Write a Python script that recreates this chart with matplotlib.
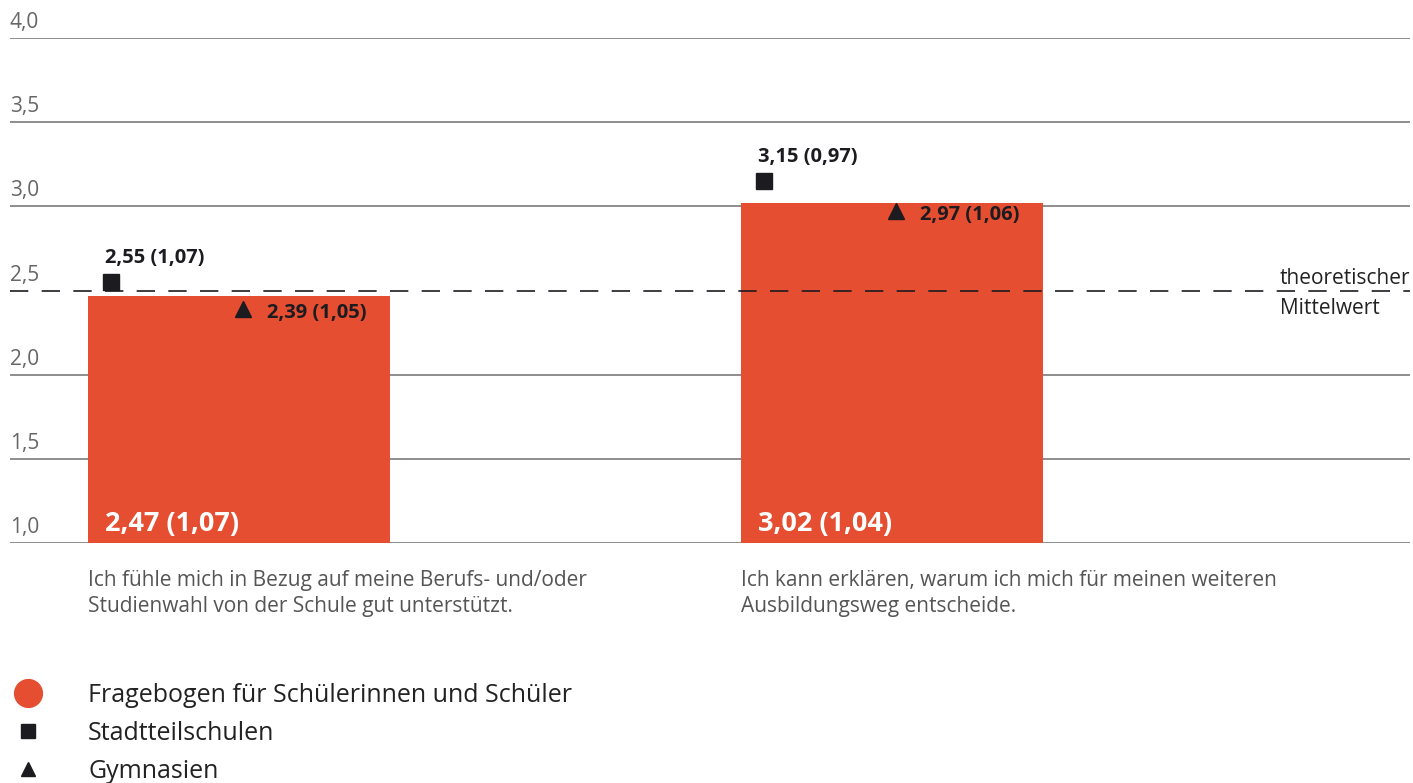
import numpy as np
import matplotlib.pyplot as plt
from matplotlib.lines import Line2D

plt.rcParams['font.family'] = ['Open Sans', 'DejaVu Sans']

# Mittelwerte (Standardabweichung) je Aussage
items = ["Ich fühle mich in Bezug auf meine Berufs- und/oder\nStudienwahl von der Schule gut unterstützt.",
         "Ich kann erklären, warum ich mich für meinen weiteren\nAusbildungsweg entscheide."]
gesamt_mean = [2.47, 3.02]
gesamt_sd = [1.07, 1.04]
sts_mean = [2.55, 3.15]
sts_sd = [1.07, 0.97]
gym_mean = [2.39, 2.97]
gym_sd = [1.05, 1.06]

yticks = [1.0, 1.5, 2.0, 2.5, 3.0, 3.5, 4.0]
mittelwert = 2.5

red = '#e54e31'
dark = '#1c1b20'
grid_col = '#7a7a7a'

def fmt(v):
    return f"{v:.2f}".replace('.', ',')

fig = plt.figure(figsize=(14.13, 7.83), dpi=100)
ax = fig.add_axes([10 / 1413, 1 - 543 / 783, 1400 / 1413, 505 / 783])

x = np.arange(len(items))
w = 0.4625
ax.set_xlim(-0.3507, 1.7933)
ax.set_ylim(1.0, 4.0)

# Gitterlinien mit Beschriftung darüber
for t in yticks:
    if t != mittelwert:
        ax.axhline(t, color=grid_col, lw=1.2, zorder=0)
    ax.annotate(f"{t:.1f}".replace('.', ','), xy=(0, t), xycoords=('axes fraction', 'data'),
                xytext=(0, 5), textcoords='offset pixels', ha='left', va='bottom',
                fontsize=15, color='#666666')

bars = ax.bar(x, np.array(gesamt_mean) - 1.0, bottom=1.0, width=w, color=red, zorder=2)

# theoretischer Mittelwert
ax.axhline(mittelwert, color=dark, lw=1.2, dashes=(11, 8), zorder=3)
ax.annotate("theoretischer", xy=(1, mittelwert), xycoords=('axes fraction', 'data'),
            xytext=(-130, 2), textcoords='offset pixels', ha='left', va='bottom',
            fontsize=15, color='#222222')
ax.annotate("Mittelwert", xy=(1, mittelwert), xycoords=('axes fraction', 'data'),
            xytext=(-130, -8), textcoords='offset pixels', ha='left', va='top',
            fontsize=15, color='#222222')

for i in x:
    left = i - w / 2
    ax.annotate(f"{fmt(gesamt_mean[i])} ({fmt(gesamt_sd[i])})", xy=(left, 1.0),
                xytext=(17, 19), textcoords='offset pixels', ha='left', va='center',
                fontsize=19.5, fontweight='bold', color='white', zorder=4)

    # Stadtteilschulen
    ax.plot(i - 0.196, sts_mean[i], marker='s', ms=11.5, color=dark, ls='none', zorder=5)
    ax.annotate(f"{fmt(sts_mean[i])} ({fmt(sts_sd[i])})", xy=(i - 0.196, sts_mean[i]),
                xytext=(-6, 14), textcoords='offset pixels', ha='left', va='bottom',
                fontsize=14.5, fontweight='bold', color=dark)

    # Gymnasien
    ax.plot(i + 0.006, gym_mean[i], marker='^', ms=11, color=dark, ls='none', zorder=5)
    ax.annotate(f"{fmt(gym_mean[i])} ({fmt(gym_sd[i])})", xy=(i + 0.006, gym_mean[i]),
                xytext=(24, -4), textcoords='offset pixels', ha='left', va='center',
                fontsize=14.5, fontweight='bold', color=dark)

    ax.annotate(items[i], xy=(left, 1.0), xytext=(0, -27), textcoords='offset pixels',
                ha='left', va='top', fontsize=15, color='#555555', linespacing=1.3)

for s in ax.spines.values():
    s.set_visible(False)
ax.set_xticks([])
ax.set_yticks([])

handles = [Line2D([], [], marker='o', ms=20, color=red, ls='none'),
           Line2D([], [], marker='s', ms=10, color=dark, ls='none'),
           Line2D([], [], marker='^', ms=10, color=dark, ls='none')]
labels = ["Fragebogen für Schülerinnen und Schüler", "Stadtteilschulen", "Gymnasien"]
fig.legend(handles, labels, loc='upper left', bbox_to_anchor=(0.0, 1 - 683 / 783),
           frameon=False, fontsize=18, handlelength=2.24, handletextpad=1.28,
           labelspacing=0.52, borderpad=0, borderaxespad=0, labelcolor='#222222')

fig.savefig('out.png', dpi=100)
